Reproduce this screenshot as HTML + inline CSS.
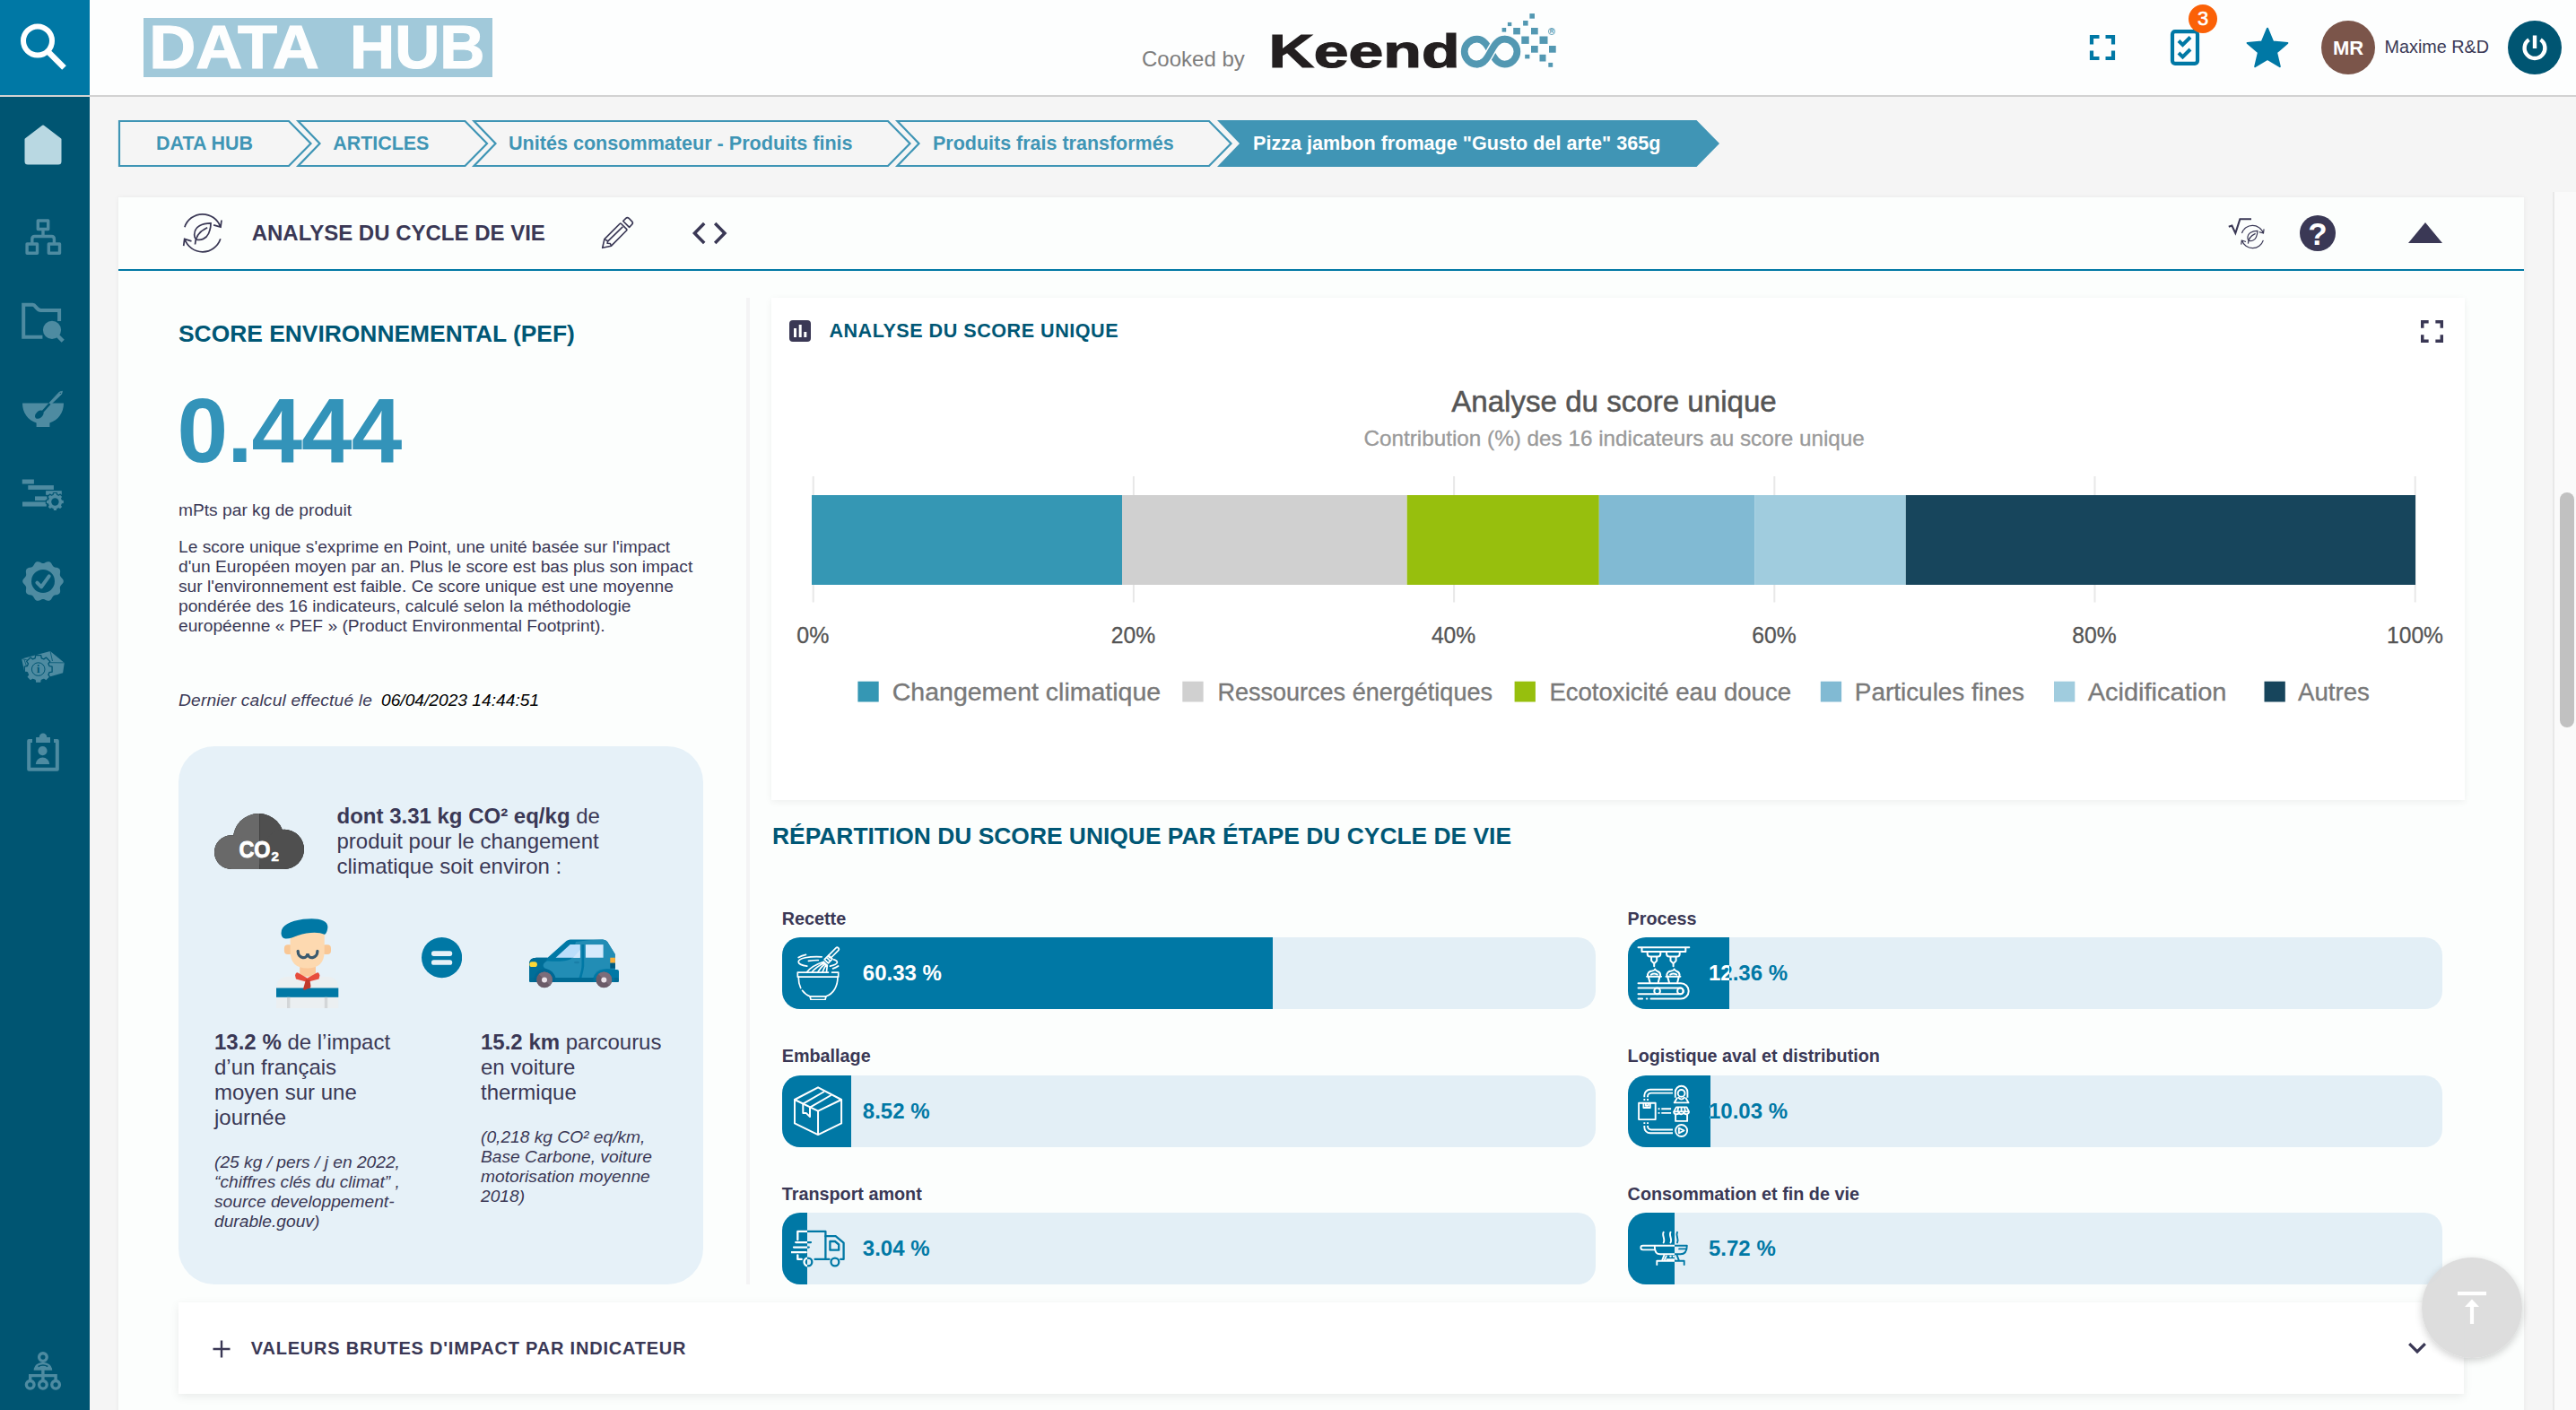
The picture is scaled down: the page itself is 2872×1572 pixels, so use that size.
<!DOCTYPE html>
<html lang="fr">
<head>
<meta charset="utf-8">
<title>DATA HUB - Analyse du cycle de vie</title>
<style>
*{box-sizing:border-box;margin:0;padding:0}
html,body{width:2872px;height:1572px;overflow:hidden;background:#f5f5f5;font-family:"Liberation Sans",Arial,Helvetica,sans-serif;color:#3a3855}
.abs{position:absolute}
#sidebar{position:absolute;left:0;top:0;width:100px;height:1572px;background:#005572}
#search{position:absolute;left:0;top:0;width:100px;height:106px;background:#0078a5}
#header{position:absolute;left:100px;top:0;width:2772px;height:106px;background:#fdfefe}
#hline{position:absolute;left:0;top:106px;width:2872px;height:2px;background:#d2d2d2}
.t{position:absolute;white-space:nowrap;line-height:1}
#card{position:absolute;left:132px;top:220px;width:2682px;height:1360px;background:#fcfefd;box-shadow:0 0 6px rgba(0,0,0,.05)}
#cardline{position:absolute;left:132px;top:300px;width:2682px;height:2px;background:#0078a5}
#divider{position:absolute;left:832px;top:332px;width:4px;height:1100px;background:#f4f4f5}
#chartpanel{position:absolute;left:860px;top:332px;width:1887.5px;height:560px;background:#fff;box-shadow:0 2px 8px rgba(0,0,0,.06)}
#co2box{position:absolute;left:199px;top:832px;width:585px;height:600px;border-radius:40px;background:#e6f1f8}
#accordion{position:absolute;left:199px;top:1452px;width:2548px;height:102px;background:#fff;box-shadow:0 3px 10px rgba(0,0,0,.08)}
#sbtrack{position:absolute;left:2846px;top:214px;width:26px;height:1358px;background:#fafafa;border-left:2px solid #e8e8e8}
#sbthumb{position:absolute;left:2854px;top:548.700000px;width:16px;height:262.200000px;border-radius:8px;background:#c1c1c1}
#fab{position:absolute;left:2700px;top:1402px;width:112px;height:112px;border-radius:56px;background:rgba(218,218,218,.92);box-shadow:0 3px 8px rgba(0,0,0,.18)}
.h2{font-weight:bold;font-size:26.4px;color:#005775}
.p{font-size:19.2px;line-height:22px;color:#3a3855}
.lbl{font-weight:bold;font-size:19.8px;color:#3a3855}
.bar{position:absolute;width:907.5px;height:80px;border-radius:20px;background:#e3eff6;overflow:hidden}
.bar .fill{position:absolute;left:0;top:0;height:80px;background:#0078a5;overflow:hidden}
.bar .pct{position:absolute;left:90px;top:28px;font-weight:bold;font-size:24px;line-height:1;white-space:nowrap;color:#0078a5}
.bar .fill .pct{color:#fff}
.bar svg{position:absolute;left:10px;top:10px;width:60px;height:60px;color:#0078a5}
.bar .fill svg{color:#fff}
</style>
</head>
<body>
<div id="header"></div>
<div id="sidebar"></div>
<div id="search"></div>
<div id="hline"></div>

<svg class="abs" style="left:160px;top:20px" width="389" height="66" viewBox="160 20 389 66" font-family="Liberation Sans, Arial, sans-serif" font-weight="bold" font-size="68.500000" fill="#fdfefe" stroke="#fdfefe" stroke-width="1.200000">
<rect x="160" y="20" width="389" height="66" fill="#a1c9da" stroke="none"/>
<text x="166.300000" y="76.300000" textLength="189.500000" lengthAdjust="spacingAndGlyphs">DATA</text>
<text x="390" y="76.300000" textLength="150.500000" lengthAdjust="spacingAndGlyphs">HUB</text>
</svg>
<div class="t" style="left:1273.0px;top:54.28px;font-size:24.0px;font-weight:normal;color:#7d7d7d;font-style:normal;">Cooked by</div>
<svg class="abs" style="left:1410px;top:10px" width="340" height="80" viewBox="1410 10 340 80">
<text x="1414.500000" y="74.800000" font-family="Liberation Sans, Arial, sans-serif" font-weight="bold" font-size="51.400000" fill="#231f20" stroke="#231f20" stroke-width="1.200000" textLength="213" lengthAdjust="spacingAndGlyphs">Keend</text>
<g fill="none" stroke="#5398b2" stroke-width="7.700000">
<path d="M1662 57.600000C1658 50.200000 1654 43.600000 1646.700000 43.600000A14 14 0 0 0 1646.700000 71.600000C1654 71.600000 1658 65 1662 57.600000M1662 57.600000C1666 65 1670 71.600000 1677.400000 71.600000A14 14 0 0 0 1677.400000 43.600000"/>
<path d="M1654.500000 69C1658 65.500000 1660 61.500000 1662 57.600000C1664 53.700000 1666 49.700000 1669.500000 46.200000" stroke="#fdfefe" stroke-width="10.500000"/>
<path stroke-linecap="round" d="M1646.700000 71.600000C1654 71.600000 1658 65 1662 57.600000C1666 50.200000 1670 43.600000 1677.400000 43.600000"/>
</g>
<g fill="#5398b2">
<rect x="1705.400000" y="15.100000" width="5.600000" height="5.600000"/><rect x="1680.900000" y="24.900000" width="4.400000" height="4.200000"/><rect x="1698.100000" y="23" width="5.500000" height="5.600000"/>
<rect x="1674.600000" y="31" width="4.600000" height="4.600000"/><rect x="1687.200000" y="31" width="7.700000" height="7.400000"/><rect x="1707" y="31" width="7.700000" height="7.400000"/>
<rect x="1696.300000" y="40.500000" width="8.400000" height="8.400000"/><rect x="1716.500000" y="40.500000" width="9" height="8.400000"/>
<rect x="1707" y="51" width="7.700000" height="7.700000"/><rect x="1727" y="51" width="7.700000" height="7.700000"/>
<rect x="1700.200000" y="60.800000" width="5.200000" height="4.600000"/><rect x="1716.500000" y="60.800000" width="7" height="7.700000"/><rect x="1726.300000" y="69.900000" width="4.900000" height="4.900000"/>
</g>
<circle cx="1730" cy="35" r="3.600000" fill="none" stroke="#5398b2" stroke-width=".8"/>
<text x="1730" y="37.300000" font-family="Liberation Sans, Arial, sans-serif" font-size="6.500000" font-weight="bold" fill="#5398b2" text-anchor="middle">R</text>
</svg>
<svg class="abs" style="left:2329px;top:38px" width="30" height="30" viewBox="0 0 30 30" fill="none" stroke="#0078a5" stroke-width="4.200000"><path d="M3 11.500000V3H11.500000M18.500000 3H27V11.500000M27 18.500000V27H18.500000M11.500000 27H3V18.500000"/></svg>
<svg class="abs" style="left:2418px;top:31px" width="36" height="44" viewBox="0 0 36 44" fill="none" stroke="#0078a5"><rect x="4" y="4.200000" width="28" height="35.600000" rx="3" stroke-width="4.200000"/><path d="M11 14.500000L15.500000 19L24 10.500000M11 28L15.500000 32.500000L24 24" stroke-width="4"/></svg>
<div class="abs" style="left:2440px;top:5px;width:32px;height:32px;border-radius:16px;background:#fb6107;color:#fff;font-size:22px;line-height:32px;text-align:center;-webkit-text-stroke:.6px #fff">3</div>
<svg class="abs" style="left:2503px;top:29px" width="50" height="48" viewBox="0 0 50 48"><path d="M25.00 2.70L31.23 17.62L47.35 18.94L35.08 29.48L38.81 45.21L25.00 36.80L11.19 45.21L14.92 29.48L2.65 18.94L18.77 17.62Z" fill="#0078a5" stroke="#0078a5" stroke-width="2" stroke-linejoin="round"/></svg>
<div class="abs" style="left:2588px;top:23px;width:60px;height:60px;border-radius:30px;background:#7b554a;color:#fff;font-weight:bold;font-size:22px;line-height:61px;text-align:center">MR</div>
<div class="t" style="left:2658.6px;top:42.84px;font-size:19.8px;font-weight:normal;color:#3a3855;font-style:normal;">Maxime R&amp;D</div>
<div class="abs" style="left:2796px;top:23px;width:60px;height:60px;border-radius:30px;background:#005572"></div>
<svg class="abs" style="left:2806px;top:33px" width="40" height="40" viewBox="0 0 40 40" fill="none" stroke="#fff" stroke-width="4.400000" stroke-linecap="butt"><path d="M13.500000 11.200000A11.400000 11.400000 0 1 0 26.500000 11.200000M20 6.500000V21"/></svg>

<svg class="abs" style="left:0;top:0" width="100" height="1572" viewBox="0 0 100 1572">
<g fill="none" stroke="#fff" stroke-width="6"><circle cx="42" cy="45.500000" r="16"/><path d="M53.500000 57.500000L71.500000 75.500000" stroke-width="6.500000"/></g>
<path d="M48 141L67 155.500000V180Q67 182 65 182H31Q29 182 29 180V155.500000Z" fill="#b9d8e2" stroke="#b9d8e2" stroke-width="3" stroke-linejoin="round"/>
<g fill="none" stroke="#4e8ba1" stroke-width="3.400000" stroke-linejoin="round">
<rect x="42.300000" y="246" width="11.400000" height="9.500000"/><rect x="30.100000" y="272" width="11.400000" height="10.300000"/><rect x="54.300000" y="272" width="12.200000" height="10.300000"/>
<path d="M48 255.500000V263.500000M35.800000 272V266.500000Q35.800000 263.500000 38.800000 263.500000H57.400000Q60.400000 263.500000 60.400000 266.500000V272"/>

</g>
<path d="M47.400000 375.800000H26.200000V339.800000H36.500000C40 339.800000 40.500000 345.900000 45.500000 345.900000H66.100000V358" fill="none" stroke="#4e8ba1" stroke-width="4" stroke-linejoin="miter"/><circle cx="58" cy="367.800000" r="10.100000" fill="#4e8ba1"/><path d="M62 372L70.200000 380.200000" stroke="#4e8ba1" stroke-width="4.400000"/>
<path d="M25 449.600000H71C71 460 65 468.500000 55.400000 471.600000V476H40.600000V471.600000C31 468.500000 25 460 25 449.600000Z" fill="#4e8ba1"/>
<path d="M69.500000 436.200000L68.600000 439.500000L56.500000 451L54.500000 449.500000L66.300000 437Z" fill="#4e8ba1" stroke="#4e8ba1" stroke-width=".8" stroke-linejoin="round"/><circle cx="67.300000" cy="438.400000" r=".6" fill="#005572"/>
<path d="M55.500000 450L47.500000 459" stroke="#005572" stroke-width="2.600000"/><ellipse cx="44.400000" cy="461.700000" rx="5.600000" ry="3.700000" transform="rotate(-42 44.700000 462.700000)" fill="#005572"/>
<g fill="#4e8ba1"><rect x="24.750000" y="534.500000" width="13.150000" height="5"/><rect x="31.300000" y="541.100000" width="28.600000" height="4.800000"/><rect x="51.100000" y="547.200000" width="17.700000" height="4.600000"/><rect x="39" y="553.400000" width="13.600000" height="4.700000"/><rect x="25" y="559.500000" width="26.800000" height="5.100000"/></g>
<path d="M59.08 551.53L59.41 549.50L63.39 549.50L63.72 551.53L65.40 552.23L67.07 551.02L69.88 553.83L68.67 555.50L69.37 557.18L71.40 557.51L71.40 561.49L69.37 561.82L68.67 563.50L69.88 565.17L67.07 567.98L65.40 566.77L63.72 567.47L63.39 569.50L59.41 569.50L59.08 567.47L57.40 566.77L55.73 567.98L52.92 565.17L54.13 563.50L53.43 561.82L51.40 561.49L51.40 557.51L53.43 557.18L54.13 555.50L52.92 553.83L55.73 551.02L57.40 552.23Z" fill="#4e8ba1" stroke="#005572" stroke-width="1.200000" stroke-linejoin="round"/><circle cx="61.400000" cy="559.500000" r="4.200000" fill="#005572"/>
<path d="M48.00 628.00L48.79 627.91L49.60 627.65L50.45 627.28L51.35 626.86L52.28 626.49L53.23 626.23L54.16 626.16L55.05 626.32L55.85 626.71L56.57 627.31L57.18 628.08L57.72 628.93L58.19 629.80L58.66 630.60L59.17 631.28L59.76 631.82L60.45 632.21L61.26 632.48L62.16 632.68L63.13 632.87L64.11 633.11L65.03 633.46L65.82 633.95L66.45 634.60L66.87 635.39L67.09 636.30L67.14 637.28L67.07 638.28L66.95 639.26L66.86 640.19L66.86 641.04L67.02 641.82L67.35 642.54L67.85 643.24L68.46 643.93L69.14 644.65L69.78 645.42L70.32 646.24L70.68 647.11L70.80 648.00L70.68 648.89L70.32 649.76L69.78 650.58L69.14 651.35L68.46 652.07L67.85 652.76L67.35 653.46L67.02 654.18L66.86 654.96L66.86 655.81L66.95 656.74L67.07 657.72L67.14 658.72L67.09 659.70L66.87 660.61L66.45 661.40L65.82 662.05L65.03 662.54L64.11 662.89L63.13 663.13L62.16 663.32L61.26 663.52L60.45 663.79L59.76 664.18L59.17 664.72L58.66 665.40L58.19 666.20L57.72 667.07L57.18 667.92L56.57 668.69L55.85 669.29L55.05 669.68L54.16 669.84L53.23 669.77L52.28 669.51L51.35 669.14L50.45 668.72L49.60 668.35L48.79 668.09L48.00 668.00L47.21 668.09L46.40 668.35L45.55 668.72L44.65 669.14L43.72 669.51L42.77 669.77L41.84 669.84L40.95 669.68L40.15 669.29L39.43 668.69L38.82 667.92L38.28 667.07L37.81 666.20L37.34 665.40L36.83 664.72L36.24 664.18L35.55 663.79L34.74 663.52L33.84 663.32L32.87 663.13L31.89 662.89L30.97 662.54L30.18 662.05L29.55 661.40L29.13 660.61L28.91 659.70L28.86 658.72L28.93 657.72L29.05 656.74L29.14 655.81L29.14 654.96L28.98 654.18L28.65 653.46L28.15 652.76L27.54 652.07L26.86 651.35L26.22 650.58L25.68 649.76L25.32 648.89L25.20 648.00L25.32 647.11L25.68 646.24L26.22 645.42L26.86 644.65L27.54 643.93L28.15 643.24L28.65 642.54L28.98 641.82L29.14 641.04L29.14 640.19L29.05 639.26L28.93 638.28L28.86 637.28L28.91 636.30L29.13 635.39L29.55 634.60L30.18 633.95L30.97 633.46L31.89 633.11L32.87 632.87L33.84 632.68L34.74 632.48L35.55 632.21L36.24 631.82L36.83 631.28L37.34 630.60L37.81 629.80L38.28 628.93L38.82 628.08L39.43 627.31L40.15 626.71L40.95 626.32L41.84 626.16L42.77 626.23L43.72 626.49L44.65 626.86L45.55 627.28L46.40 627.65L47.21 627.91L48.00 628.00Z" fill="#4e8ba1"/><circle cx="48" cy="648" r="13" fill="#005572"/><path d="M41.400000 649.600000L46.100000 654.400000L54.700000 642.300000" fill="none" stroke="#4e8ba1" stroke-width="4" stroke-linecap="round" stroke-linejoin="round"/>
<path d="M24.200000 734.400000L56 725.900000L71.800000 738.900000L70.100000 750.300000L50 756L27 748Z" fill="#4e8ba1"/>
<path d="M24.200000 734.400000L40 738.500000L71.800000 738.900000M56 725.900000L58.500000 737M27 735.500000L30 744" fill="none" stroke="#005572" stroke-width=".8"/>
<path d="M39.13 733.81L39.64 730.70L45.76 730.70L46.27 733.81L48.87 734.88L51.42 733.05L55.75 737.38L53.92 739.93L54.99 742.53L58.10 743.04L58.10 749.16L54.99 749.67L53.92 752.27L55.75 754.82L51.42 759.15L48.87 757.32L46.27 758.39L45.76 761.50L39.64 761.50L39.13 758.39L36.53 757.32L33.98 759.15L29.65 754.82L31.48 752.27L30.41 749.67L27.30 749.16L27.30 743.04L30.41 742.53L31.48 739.93L29.65 737.38L33.98 733.05L36.53 734.88Z" fill="#4e8ba1" stroke="#005572" stroke-width="1.300000" stroke-linejoin="round"/><circle cx="42.700000" cy="746.100000" r="7.300000" fill="none" stroke="#005572" stroke-width="1"/>
<text x="42.700000" y="750.300000" font-family="Liberation Serif, serif" font-weight="bold" font-size="12" fill="#005572" text-anchor="middle">i</text>
<path d="M36 826H32.200000V857.800000H63.800000V826H60" fill="none" stroke="#4e8ba1" stroke-width="4" stroke-linejoin="round"/>
<rect x="40.100000" y="822" width="15.900000" height="6" fill="#4e8ba1"/><circle cx="48" cy="821.800000" r="4.200000" fill="#4e8ba1"/>
<circle cx="47.500000" cy="837.100000" r="5.100000" fill="#4e8ba1"/><path d="M39.800000 852A7.700000 7.500000 0 0 1 55.200000 852Z" fill="#4e8ba1"/>
<g fill="none" stroke="#4e8ba1" stroke-width="3.400000"><circle cx="47.900000" cy="1513.100000" r="4.300000"/><circle cx="33.700000" cy="1543.800000" r="4.300000"/><circle cx="47.900000" cy="1543.800000" r="4.300000"/><circle cx="62.100000" cy="1543.800000" r="4.300000"/>
<path d="M47.900000 1527V1539.500000M33.700000 1539.500000V1533.600000H62.100000V1539.500000"/></g>
<path d="M37.600000 1527.700000A10.300000 9 0 0 1 58.200000 1527.700000Z" fill="#4e8ba1"/><path d="M42.500000 1523.500000Q47.900000 1520.500000 53.300000 1523.500000" stroke="#005572" stroke-width="1.600000" fill="none"/>
</svg>

<svg class="abs" style="left:120px;top:126px" width="1820" height="68" viewBox="120 126 1820 68" font-family="Liberation Sans, Arial, sans-serif" font-weight="bold" font-size="21.600000">
<g fill="none" stroke="#3f95b5" stroke-width="2.200000" stroke-linejoin="miter">
<path d="M133 135H322L346.500000 160L322 185H133Z"/>
<path d="M332.500000 135H518.500000L543 160L518.500000 185H332.500000L356.500000 160Z"/>
<path d="M528.500000 135H990L1014.500000 160L990 185H528.500000L552.500000 160Z"/>
<path d="M1000.500000 135H1348L1372.500000 160L1348 185H1000.500000L1024.500000 160Z"/>
</g>
<path d="M1357 134H1891.500000L1917 160L1891.500000 186H1357L1382 160Z" fill="#4095b5"/>
<g fill="#3f95b5">
<text x="174" y="167" textLength="108" lengthAdjust="spacingAndGlyphs">DATA HUB</text>
<text x="371.200000" y="167" textLength="107.200000" lengthAdjust="spacingAndGlyphs">ARTICLES</text>
<text x="567" y="167" textLength="383.600000" lengthAdjust="spacingAndGlyphs">Unités consommateur - Produits finis</text>
<text x="1040" y="167" textLength="268.600000" lengthAdjust="spacingAndGlyphs">Produits frais transformés</text>
</g>
<text x="1397" y="167" fill="#fff" textLength="454.400000" lengthAdjust="spacingAndGlyphs">Pizza jambon fromage "Gusto del arte" 365g</text>
</svg>

<div id="card"></div>
<div id="cardline"></div>
<svg class="abs" style="left:195px;top:230px" width="70" height="60" viewBox="195 230 70 60" fill="none" stroke="#3a3855" stroke-width="1.750000" stroke-linecap="butt" stroke-linejoin="miter">
<path id="cyc" d="M205.900000 253.200000A21 21 0 0 1 245.650000 252.800000M238.100000 250.900000L246 253.100000L247 245.500000M245.800000 266.300000A21 21 0 0 1 205.950000 266.500000M213.500000 268.900000L205.700000 266.500000L204.700000 274.200000M235 248.900000C226 249 216.500000 252 216.700000 262C216.800000 264.500000 217.500000 266 218.500000 266.800000C224 268.500000 230 266 232.500000 260.500000C234.500000 256 235 252 235 248.900000ZM217.500000 272.500000C217.800000 264 222 258 231.200000 253.800000"/>
</svg>
<div class="t" style="left:280.7px;top:248.08px;font-size:24.0px;font-weight:bold;color:#3a3855;font-style:normal;">ANALYSE DU CYCLE DE VIE</div>
<svg class="abs" style="left:665px;top:236px" width="48" height="48" viewBox="665 236 48 48" fill="none" stroke="#3a3855" stroke-width="1.650000" stroke-linejoin="round">
<path d="M694.700000 246.500000L697.800000 243.400000Q699.400000 241.900000 701.200000 243.400000L704.600000 246.800000Q706.200000 248.600000 704.600000 250.300000L701.600000 253.400000Z"/>
<path d="M673.900000 266.600000L691 249.500000Q691.800000 248.800000 692.600000 249.500000L698.500000 255.400000Q699.200000 256.200000 698.500000 257L681.500000 274.200000L671.700000 276.300000Z"/>
<path d="M694.300000 252.800000L677.800000 268.900000M673.900000 266.600000L677.600000 268.700000L677.200000 271.300000L680.300000 271.500000L681.500000 274.200000"/>
</svg>
<svg class="abs" style="left:768px;top:244px" width="46" height="32" viewBox="768 244 46 32" fill="none" stroke="#3a3855" stroke-width="3.500000"><path d="M785.200000 249L774.400000 260L785.200000 271M797.200000 249L808 260L797.200000 271"/></svg>
<svg class="abs" style="left:2480px;top:238px" width="50" height="44" viewBox="2480 238 50 44" fill="none" stroke="#3a3855">
<path d="M2484.800000 252.800000L2488.400000 251.600000L2492.300000 260L2497.400000 244.300000H2510" stroke-width="2.100000"/>
<g transform="translate(2511.400000 264) scale(.6) translate(-225.850000 -259.800000)" stroke-width="2"><use href="#cyc"/></g>
</svg>
<div class="abs" style="left:2564px;top:240px;width:40px;height:40px;border-radius:20px;background:#3a3855;color:#fff;font-weight:bold;font-size:35px;line-height:41px;text-align:center">?</div>
<svg class="abs" style="left:2684px;top:247px" width="40" height="25" viewBox="0 0 40 25"><path d="M1 24L20 1L39 24Z" fill="#3a3855"/></svg>

<div id="divider"></div>
<div class="t" style="left:199.0px;top:358.65px;font-size:26.4px;font-weight:bold;color:#005775;font-style:normal;">SCORE ENVIRONNEMENTAL (PEF)</div>
<div class="t" style="left:197.6px;top:429.83px;font-size:101.8px;font-weight:bold;color:#3393b9;font-style:normal;letter-spacing:-1px">0.444</div>
<div class="t" style="left:199.0px;top:559.15px;font-size:19.2px;font-weight:normal;color:#3a3855;font-style:normal;">mPts par kg de produit</div>
<div class="p abs" style="left:199px;top:599.1px;width:600px">Le score unique s'exprime en Point, une unité basée sur l'impact<br>d'un Européen moyen par an. Plus le score est bas plus son impact<br>sur l'environnement est faible. Ce score unique est une moyenne<br>pondérée des 16 indicateurs, calculé selon la méthodologie<br>européenne « PEF » (Product Environmental Footprint).</div>
<div class="t" style="left:199.0px;top:771.25px;font-size:19.2px;font-weight:normal;color:#3a3855;font-style:italic;letter-spacing:.19px">Dernier calcul effectué le</div>
<div class="t" style="left:425.0px;top:771.25px;font-size:19.2px;font-weight:normal;color:#000;font-style:italic;">06/04/2023 14:44:51</div>
<div id="co2box"></div>
<div class="abs" style="left:375.5px;top:895.7px;font-size:24px;line-height:28px;white-space:nowrap"><b>dont 3.31 kg CO² eq/kg</b> de<br>produit pour le changement<br>climatique soit environ :</div>
<div class="abs" style="left:239px;top:1147.7px;font-size:24px;line-height:28px;white-space:nowrap"><b>13.2 %</b> de l’impact<br>d’un français<br>moyen sur une<br>journée</div>
<div class="abs" style="left:239px;top:1285.2px;font-size:19.2px;line-height:21.8px;white-space:nowrap;font-style:italic">(25 kg / pers / j en 2022,<br>“chiffres clés du climat” ,<br>source developpement-<br>durable.gouv)</div>
<div class="abs" style="left:536px;top:1147.7px;font-size:24px;line-height:28px;white-space:nowrap"><b>15.2 km</b> parcourus<br>en voiture<br>thermique</div>
<div class="abs" style="left:536px;top:1257.4px;font-size:19.2px;line-height:21.8px;white-space:nowrap;font-style:italic">(0,218 kg CO² eq/km,<br>Base Carbone, voiture<br>motorisation moyenne<br>2018)</div>
<svg class="abs" style="left:239px;top:907px" width="100" height="62" viewBox="0 0 100 62">
<defs><clipPath id="cl"><rect x="0" y="0" width="50.2" height="62"/></clipPath><clipPath id="cr"><rect x="50.2" y="0" width="50" height="62"/></clipPath></defs>
<g id="cloudshape"><circle cx="49.3" cy="28.4" r="28.4"/><circle cx="18.9" cy="43.1" r="18.9"/><circle cx="77.9" cy="39.9" r="22.1"/><rect x="18.9" y="40" width="59" height="22"/></g>
<use href="#cloudshape" fill="#696969" clip-path="url(#cl)"/><use href="#cloudshape" fill="#4f4f4f" clip-path="url(#cr)"/>
<text x="27.5" y="48.6" font-family="Liberation Sans, sans-serif" font-weight="bold" font-size="26.5" fill="#fff" stroke="#fff" stroke-width=".9" textLength="35" lengthAdjust="spacingAndGlyphs">CO</text>
<text x="63.5" y="52.6" font-family="Liberation Sans, sans-serif" font-weight="bold" font-size="15" fill="#fff" stroke="#fff" stroke-width=".7">2</text>
</svg>
<svg class="abs" style="left:308px;top:1024px" width="70" height="100" viewBox="0 0 70 100">
<path d="M0 100V78.700000000000003Q0 64.700000000000003 14 64.700000000000003H55.3Q69.3 64.700000000000003 69.3 78.700000000000003V100Z" fill="#ebeff1"/>
<rect x="0" y="77.5" width="69.3" height="10.3" fill="#0078a5"/>
<rect x="12" y="87.8" width="3.4" height="12.2" fill="#d3d6d8"/><rect x="53.8" y="87.8" width="3.4" height="12.2" fill="#d3d6d8"/>
<rect x="26.2" y="50" width="17.8" height="14.7" fill="#fbc899"/>
<rect x="8.9" y="29.3" width="10" height="10.6" rx="4" fill="#f9c795"/><rect x="51" y="29.3" width="10" height="10.6" rx="4" fill="#f9c795"/>
<path d="M15.6 12H53.7V36.5Q53.7 55.5 34.65 55.5Q15.6 55.5 15.6 36.5Z" fill="#fdd9b0"/>
<path d="M5.6 17.5C4.5 8 15 3 30 0.8C46 -1.3 58.5 1.5 57.3 10.5C56.8 15 55 18 53.5 17.8C48 14.8 36 14.8 24 19C16 22 7 26 5.6 17.5Z" fill="#0078a5"/>
<path d="M24.2 36.5C24.2 45 34.6 46 35 39C35.4 46 45.9 45 45.9 36.5" fill="none" stroke="#3b5a6f" stroke-width="3.3" stroke-linecap="round"/>
<path d="M34.500000 70.500000L38.5 77.500000L30 79.500000Z" fill="#c0392b"/>
<path d="M21 63.5C22 59.500000 23.5 59.800000 25 61L34.6 66.5L44.5 61C46 59.800000 47.500000 59.500000 48.500000 63.5L47.500000 67.500000L36 70.500000L33 70.500000L22 67.500000Z" fill="#e74c3c"/>
<path d="M33 68L37.5 68.500000L38.5 76L32.5 79.500000C31 79.800000 30 79 30.2 78Z" fill="#c0392b"/>
</svg>
<svg class="abs" style="left:469.8px;top:1045.4px" width="45.2" height="45.2" viewBox="0 0 45.2 45.2"><circle cx="22.6" cy="22.6" r="22.6" fill="#0078a5"/><rect x="11" y="15.3" width="23.2" height="5.6" rx="2.6" fill="#e6f1f8"/><rect x="11" y="25.2" width="23.2" height="5.6" rx="2.6" fill="#e6f1f8"/></svg>
<svg class="abs" style="left:590px;top:1046.5px" width="100" height="55" viewBox="0 0 100 55">
<path d="M20.5 20.700000L41.500000 2Q43.5 0.5 45.700000 0.5H82Q85.5 0.5 87.2 3L95.700000 16.700000V34H98Q100 34 100 36V46Q100 48.100000 98 48.100000H2Q0 48.100000 0 46V28Q0 20.700000 8 20.700000Z" fill="#0078a5"/>
<path d="M0 28Q0 20.700000 8 20.700000H20.500000L18 26C14 29 15 32 19 33C24 34.500000 28 38 29.500000 43H0Z" fill="#006e98"/>
<path d="M20 24.500000C28 25 42 25.500000 47 21.700000L52 3Q66 0.5 82 0.5Q85.500000 0.500000 87.200000 3L95.700000 16.700000V34C88 32 75 33 71.500000 43H29.500000C28 38 24 34.500000 19 33C15 32 14 27 20 24.500000Z" fill="#228db5"/>
<path d="M58.500000 6L61.200000 6L61.200000 30C60.500000 36 59 40 58.500000 43H55.500000C57 38 58.500000 34 58.500000 29Z" fill="#0078a5"/>
<rect x="0" y="42.900000" width="100" height="5.2" rx="1.5" fill="#006b94"/>
<path d="M71.500000 48V44A11.800000 11.800000 0 0 1 95 44V48Z" fill="#0078a5" opacity=".55"/>
<path d="M5.500000 48V44A11.800000 11.800000 0 0 1 29 44V48Z" fill="#006390" opacity=".55"/>
<path d="M29.600000 20.700000L45.700000 6.100000H56.800000V20.700000Z" fill="#bbdefb"/><path d="M49 20.700000L56.800000 12V20.700000Z" fill="#d0e7fc"/>
<rect x="62.900000" y="6.100000" width="19.700000" height="14.600000" fill="#d6eafc"/>
<rect x="0.3" y="25.2" width="8.600000" height="5.900000" rx="2.900000" fill="#fdd835"/>
<rect x="90.300000" y="20.700000" width="5.600000" height="6" fill="#fbb03b"/><rect x="90.300000" y="26.700000" width="5.600000" height="6" fill="#005a80"/>
<ellipse cx="53" cy="26" rx="3" ry="1.300000" fill="#1a7fa8"/>
<circle cx="17" cy="45.400000" r="8.900000" fill="#6b5b68"/><path d="M10.700000 39.100000A8.900000 8.900000 0 0 1 23.300000 51.700000Z" fill="#7d6d7a"/><circle cx="17" cy="45.400000" r="3" fill="#ece4ea"/>
<circle cx="83.300000" cy="45.400000" r="8.900000" fill="#6b5b68"/><path d="M77 39.100000A8.900000 8.900000 0 0 1 89.600000 51.700000Z" fill="#7d6d7a"/><circle cx="83.300000" cy="45.400000" r="3" fill="#ece4ea"/>
</svg>

<div id="chartpanel"></div>
<svg class="abs" style="left:880px;top:357px" width="24" height="24" viewBox="0 0 24 24"><rect width="24" height="24" rx="4" fill="#3a3855"/><rect x="5" y="9" width="3" height="10" fill="#fff"/><rect x="10.7" y="5" width="3" height="14" fill="#fff"/><rect x="16.3" y="13" width="3" height="6" fill="#fff"/></svg>
<div class="t" style="left:924.4px;top:357.8px;font-size:21.6px;font-weight:bold;color:#005775;letter-spacing:.5px">ANALYSE DU SCORE UNIQUE</div>
<svg class="abs" style="left:2698.500000px;top:356.500000px" width="25" height="25" viewBox="0 0 26 26" fill="none" stroke="#3a3855" stroke-width="3.6"><path d="M1.800000 9V1.800000H9M17 1.800000H24.200000V9M24.200000 17V24.200000H17M9 24.200000H1.800000V17"/></svg>
<svg class="abs" style="left:860px;top:332px" width="1888" height="560" viewBox="860 332 1888 560" font-family="Liberation Sans, Arial, sans-serif">
<text x="1799.500000" y="458.800000" text-anchor="middle" font-size="32.500000" fill="#555" stroke="#555" stroke-width=".5" textLength="362.600000" lengthAdjust="spacingAndGlyphs">Analyse du score unique</text>
<text x="1799.700000" y="496.800000" text-anchor="middle" font-size="24" fill="#9a9a9a" stroke="#9a9a9a" stroke-width=".3" textLength="558.300000" lengthAdjust="spacingAndGlyphs">Contribution (%) des 16 indicateurs au score unique</text>
<g stroke="#e8e8e8" stroke-width="2"><path d="M906.700000 531V671.500000M1263.900000 531V671.500000M1621.100000 531V671.500000M1978.300000 531V671.500000M2335.500000 531V671.500000M2692.700000 531V671.500000"/></g>
<rect x="905" y="552" width="346" height="100" fill="#3597b4"/>
<rect x="1251" y="552" width="317.700000" height="100" fill="#d0d0d0"/>
<rect x="1568.700000" y="552" width="214.100000" height="100" fill="#97bf0d"/>
<rect x="1782.800000" y="552" width="173.800000" height="100" fill="#81bad3"/>
<rect x="1956.600000" y="552" width="168.200000" height="100" fill="#a0ccde"/>
<rect x="2124.800000" y="552" width="568.200000" height="100" fill="#17455c"/>
<g font-size="25.200000" fill="#555" stroke="#555" stroke-width=".3" text-anchor="middle">
<text x="906.300000" y="716.800000" textLength="36" lengthAdjust="spacingAndGlyphs">0%</text>
<text x="1263.400000" y="716.800000" textLength="49.400000" lengthAdjust="spacingAndGlyphs">20%</text>
<text x="1620.600000" y="716.800000" textLength="49.400000" lengthAdjust="spacingAndGlyphs">40%</text>
<text x="1978" y="716.800000" textLength="49.400000" lengthAdjust="spacingAndGlyphs">60%</text>
<text x="2335" y="716.800000" textLength="49.400000" lengthAdjust="spacingAndGlyphs">80%</text>
<text x="2692.500000" y="716.800000" textLength="63" lengthAdjust="spacingAndGlyphs">100%</text>
</g>
<g font-size="27.700000" fill="#797979" stroke="#797979" stroke-width=".35">
<rect x="956.400000" y="759.700000" width="23.300000" height="22.800000" stroke="none" fill="#3597b4"/><text x="994.800000" y="780.600000" textLength="299.300000" lengthAdjust="spacingAndGlyphs">Changement climatique</text>
<rect x="1318.300000" y="759.700000" width="23.300000" height="22.800000" stroke="none" fill="#d0d0d0"/><text x="1357.400000" y="780.600000" textLength="306.600000" lengthAdjust="spacingAndGlyphs">Ressources énergétiques</text>
<rect x="1688.600000" y="759.700000" width="23.300000" height="22.800000" stroke="none" fill="#97bf0d"/><text x="1727.400000" y="780.600000" textLength="269.600000" lengthAdjust="spacingAndGlyphs">Ecotoxicité eau douce</text>
<rect x="2029.800000" y="759.700000" width="23.300000" height="22.800000" stroke="none" fill="#81bad3"/><text x="2067.800000" y="780.600000" textLength="189.200000" lengthAdjust="spacingAndGlyphs">Particules fines</text>
<rect x="2290" y="759.700000" width="23.300000" height="22.800000" stroke="none" fill="#a0ccde"/><text x="2327.700000" y="780.600000" textLength="154.800000" lengthAdjust="spacingAndGlyphs">Acidification</text>
<rect x="2524.500000" y="759.700000" width="23.300000" height="22.800000" stroke="none" fill="#17455c"/><text x="2562" y="780.600000" textLength="79.800000" lengthAdjust="spacingAndGlyphs">Autres</text>
</g>
</svg>

<svg width="0" height="0" style="position:absolute"><defs>
<symbol id="ic-recette" viewBox="0 0 60 60"><g fill="none" stroke="currentColor" stroke-width="1.7" stroke-linecap="round" stroke-linejoin="round">
<path d="M41.5 29.1H7.3V34.1H52.7V29.1H45.5"/>
<path d="M8.2 34.1C8.2 39 9 43 10.7 46.5M12.5 49.3C14.8 52.5 17.7 54.6 21 55.8M52 34.1C52 45 47 53 39 55.8"/>
<path d="M21 55.8L22 59.5H38L39 55.8Z"/>
<rect x="40.2" y="5.2" width="14.6" height="3.8" rx="1.9" transform="rotate(-45 47.5 7.1)"/>
<path d="M37.2 14.6L41.8 10L46 14.2L41.400000 18.800000ZM39.500000 12.300000L43.700000 16.500000"/>
<path d="M36.3 17.2C28 20 21 24 17.6 28.800000M37.300000 18.200000C31 21.500000 26 25 23.300000 28.800000M38.300000 19.200000C34.500000 22 31.500000 25.500000 29.700000 28.800000M39.400000 20.200000C37.500000 23 36 26 35 28.800000M40.300000 21C40 24 39.800000 26 39.500000 28.500000"/>
<path d="M8.2 12.600000Q12 10.300000 16.500000 9.400000M34.200000 11.800000C20 11 8 13.300000 8.200000 17.400000C8.300000 20 13 21.500000 17.800000 22.200000M19.400000 16.300000Q25 15.500000 30.300000 15.500000M47.700000 14.900000C53 16.500000 53.500000 20 43.500000 22.200000M46.600000 24.800000Q50 24 52.600000 22"/>
</g></symbol>
<symbol id="ic-emballage" viewBox="0 0 60 60"><g fill="none" stroke="currentColor" stroke-width="2" stroke-linejoin="round">
<path d="M30.050000 3.350000L56.100000 17V43.400000L30.050000 56.100000L3.970000 43.400000V17Z"/>
<path d="M3.970000 17L30.050000 29.700000L56.100000 17M30.050000 29.700000V56.100000"/>
<path d="M36.900000 8L13.300000 21.700000V31.900000H16.700000L21 36V25.700000L44.600000 12"/>
</g></symbol>
<symbol id="ic-transport" viewBox="0 0 60 60"><g fill="none" stroke="currentColor" stroke-width="2.300000" stroke-linecap="round" stroke-linejoin="round">
<path d="M7.300000 19.200000V9.900000H38.400000V40.900000M26.600000 40.900000H42.500000M7.300000 36.300000V40.900000H11.700000"/>
<path d="M5.200000 22.100000H22M3 27.600000H19.800000M0.400000 33.200000H16.700000"/>
<circle cx="18.900000" cy="44" r="4.400000"/><circle cx="48.900000" cy="44" r="4.400000"/>
<path d="M38.400000 15.200000H49.600000L58.600000 22.600000V40.900000H55.200000"/>
<path d="M43.400000 21H49L53.200000 24.500000V30.700000H43.400000Z"/>
</g></symbol>
<symbol id="ic-process" viewBox="0 0 60 60"><g fill="none" stroke="currentColor" stroke-width="2" stroke-linecap="round" stroke-linejoin="round">
<path d="M1.500000 1.300000H58.300000M5.500000 1.300000V6H54.300000V1.300000"/>
<g id="noz"><path d="M11.700000 6V8.400000Q11.700000 11.400000 14.800000 11.400000H23.400000Q26.300000 11.400000 26.300000 8.400000V6M16.100000 11.400000V16.100000L19.200000 19.200000L22.200000 16.100000V11.400000M19.200000 19.200000V22.200000"/>
<path d="M11.100000 33.800000H27M12.700000 33.800000L14.500000 40.300000M25.400000 33.800000L23.800000 40.300000M12 33.500000C11.500000 29.500000 14 27.800000 16.800000 27.600000C18.800000 27.300000 19.800000 26.600000 20.200000 25.500000C20.800000 27 21.800000 27.500000 23.200000 28C25.500000 29 26.500000 31 26 33.500000M15.800000 31.500000Q19.200000 29.500000 22.800000 31.500000"/></g>
<use href="#noz" x="21.400000"/>
<path d="M1.500000 41.200000H49A8.700000 8.700000 0 0 1 49 58.600000H15.500000M1.500000 58.600000H6.100000M10.800000 58.600000H11.400000"/>
<path d="M1.500000 46.500000H48.400000A3.400000 3.400000 0 0 1 48.400000 53.300000H1.500000"/>
<circle cx="22.600000" cy="49.900000" r="3.300000"/><circle cx="48.400000" cy="49.900000" r="3.300000"/>
</g></symbol>
<symbol id="ic-logistique" viewBox="0 0 60 60"><g fill="none" stroke="currentColor" stroke-width="1.900000" stroke-linejoin="round">
<rect x="2.100000" y="20.700000" width="18.600000" height="18.400000"/><path d="M7.400000 20.700000V26H14.800000V20.700000M9.900000 21V23.700000H12.600000V21"/>
<path d="M8.300000 14.200000V12.300000A6.500000 6.500000 0 0 1 14.800000 5.800000H40M12 14.200000V13.600000A4 4 0 0 1 16 9.600000H40"/>
<path d="M8.300000 45.900000V47.800000A6.500000 6.500000 0 0 0 14.800000 54.300000H40M12 45.900000V46.500000A4 4 0 0 0 16 50.500000H40"/>
<path d="M7.400000 17H9.300000M11.100000 17H13M7.400000 43.100000H9.300000M11.100000 43.100000H13M23.600000 27.300000H25.500000M23.600000 31.900000H25.500000M27.300000 27.300000H38.100000M27.300000 31.900000H38.100000"/>
<path d="M42.800000 14.800000V8.600000A6.800000 6.800000 0 0 1 56.400000 8.600000V14.800000"/><circle cx="49.600000" cy="9.900000" r="3.900000"/>
<path d="M45 14.800000L41.700000 20.400000H57.500000L54.300000 14.800000M45.800000 14.200000Q49.600000 19 53.400000 14.200000"/>
<path d="M44 25.400000H55.500000L58 30.400000H41.200000ZM46.200000 25.400000L45.300000 30.400000M49.600000 25.400000V30.400000M53 25.400000L54 30.400000"/>
<path d="M41.200000 30.400000A2.800000 2.800000 0 0 0 46.800000 30.400000A2.800000 2.800000 0 0 0 52.400000 30.400000A2.800000 2.800000 0 0 0 58 30.400000"/>
<path d="M43.100000 33.300000V40.900000H56.100000V33.300000"/>
<circle cx="49.600000" cy="51.500000" r="6.500000"/><path d="M46.800000 48.700000V54.300000L52.600000 51.500000Z"/>
</g></symbol>
<symbol id="ic-conso" viewBox="0 0 60 60"><g fill="none" stroke="currentColor" stroke-width="1.900000" stroke-linecap="round" stroke-linejoin="round">
<path d="M29.700000 10.700000C27.500000 14.500000 32 18 29.700000 22.400000M37.500000 10.700000C35.300000 14.500000 39.800000 18 37.500000 22.400000M45 10.700000C42.800000 14.500000 47.300000 18 45 22.400000"/>
<path d="M55.800000 25.700000H6.700000A2.350000 2.350000 0 0 0 6.700000 30.400000H19.500000M19.800000 27C19.800000 32 21 35.300000 26 35.300000H48.500000C53.500000 35.300000 55.800000 32 55.800000 25.700000M47.100000 29.400000H54.600000"/>
<path d="M30.400000 36.300000L27.900000 42.800000M44.600000 36.300000L47.100000 42.800000M22.300000 47.100000V42.800000H52.700000V47.100000M32.800000 37.400000L31 41.200000M33.500000 41.200000H41.500000M37.200000 37.800000H37.800000M40.800000 37.800000H41.400000"/>
</g></symbol>
</defs></svg>

<div class="t" style="left:861.0px;top:918.65px;font-size:26.4px;font-weight:bold;color:#005775;font-style:normal;">RÉPARTITION DU SCORE UNIQUE PAR ÉTAPE DU CYCLE DE VIE</div>
<div class="t" style="left:871.7px;top:1014.94px;font-size:19.8px;font-weight:bold;color:#3a3855;font-style:normal;">Recette</div>
<div class="t" style="left:871.7px;top:1168.44px;font-size:19.8px;font-weight:bold;color:#3a3855;font-style:normal;">Emballage</div>
<div class="t" style="left:871.7px;top:1321.94px;font-size:19.8px;font-weight:bold;color:#3a3855;font-style:normal;">Transport amont</div>
<div class="t" style="left:1814.6px;top:1014.94px;font-size:19.8px;font-weight:bold;color:#3a3855;font-style:normal;">Process</div>
<div class="t" style="left:1814.6px;top:1168.44px;font-size:19.8px;font-weight:bold;color:#3a3855;font-style:normal;">Logistique aval et distribution</div>
<div class="t" style="left:1814.6px;top:1321.94px;font-size:19.8px;font-weight:bold;color:#3a3855;font-style:normal;">Consommation et fin de vie</div>
<div class="bar" style="left:871.8px;top:1045px"><svg><use href="#ic-recette"/></svg><div class="pct">60.33 %</div><div class="fill" style="width:547px"><svg><use href="#ic-recette"/></svg><div class="pct">60.33 %</div></div></div>
<div class="bar" style="left:871.8px;top:1198.5px"><svg style="top:10.4px"><use href="#ic-emballage"/></svg><div class="pct">8.52 %</div><div class="fill" style="width:77px"><svg style="top:10.4px"><use href="#ic-emballage"/></svg><div class="pct">8.52 %</div></div></div>
<div class="bar" style="left:871.8px;top:1352px"><svg style="top:10.8px"><use href="#ic-transport"/></svg><div class="pct">3.04 %</div><div class="fill" style="width:28px"><svg style="top:10.8px"><use href="#ic-transport"/></svg><div class="pct">3.04 %</div></div></div>
<div class="bar" style="left:1815px;top:1045px"><svg><use href="#ic-process"/></svg><div class="pct">12.36 %</div><div class="fill" style="width:113px"><svg><use href="#ic-process"/></svg><div class="pct">12.36 %</div></div></div>
<div class="bar" style="left:1815px;top:1198.5px"><svg style="top:10.4px"><use href="#ic-logistique"/></svg><div class="pct">10.03 %</div><div class="fill" style="width:91.5px"><svg style="top:10.4px"><use href="#ic-logistique"/></svg><div class="pct">10.03 %</div></div></div>
<div class="bar" style="left:1815px;top:1352px"><svg style="top:10.8px"><use href="#ic-conso"/></svg><div class="pct">5.72 %</div><div class="fill" style="width:52px"><svg style="top:10.8px"><use href="#ic-conso"/></svg><div class="pct">5.72 %</div></div></div>

<div id="accordion"></div>
<svg class="abs" style="left:236px;top:1493px" width="22" height="22" viewBox="0 0 22 22" stroke="#3a3855" stroke-width="2.400000"><path d="M11 1.500000V20.500000M1.500000 11H20.500000"/></svg>
<div class="t" style="left:279.8px;top:1493.37px;font-size:20.0px;font-weight:bold;color:#3a3855;font-style:normal;letter-spacing:.79px">VALEURS BRUTES D'IMPACT PAR INDICATEUR</div>
<svg class="abs" style="left:2682px;top:1494px" width="26" height="18" viewBox="0 0 26 18" fill="none" stroke="#3a3855" stroke-width="3.200000"><path d="M4.200000 4.200000L13 13L21.800000 4.200000"/></svg>

<div id="sbtrack"></div>
<div id="sbthumb"></div>
<div id="fab"></div>
<svg class="abs" style="left:2736px;top:1436px" width="40" height="44" viewBox="0 0 40 44" fill="#fff"><rect x="4" y="4" width="32" height="4.200000"/><rect x="17.900000" y="18" width="4.200000" height="22"/><path d="M12 21L20 12.500000L28 21Z"/></svg>

</body>
</html>
